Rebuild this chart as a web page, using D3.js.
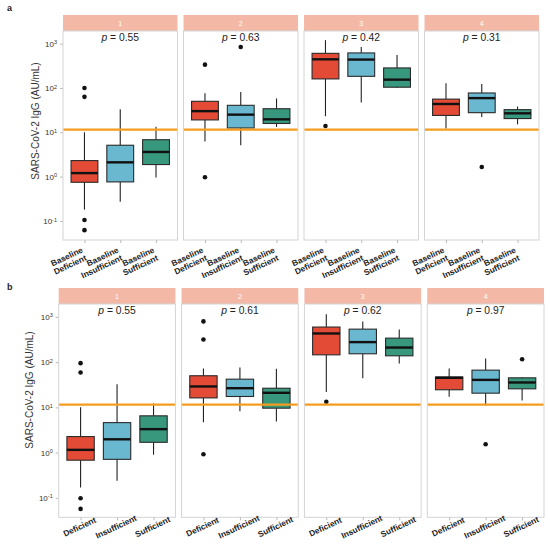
<!DOCTYPE html>
<html>
<head>
<meta charset="utf-8">
<script src="https://cdn.jsdelivr.net/npm/d3@7"></script>
<style>
  body { margin: 0; background: #fff; }
  svg { font-family: "Liberation Sans", Arial, sans-serif; }
</style>
</head>
<body>
<script>
// groups, facets and the cut-off line
var groups = ["Deficient", "Insufficient", "Sufficient"];
var facets = ["1", "2", "3", "4"];
var cutoff = 11.5;
var yTicks = [0.1, 1, 10, 100, 1000];

var pValuesA = ["0.55", "0.63", "0.42", "0.31"];
var pValuesB = ["0.55", "0.61", "0.62", "0.97"];

// per facet, per group: [lower whisker, Q1, median, Q3, upper whisker]
var boxesA = [
  [[0.18, 0.745, 1.2, 2.3, 10], [0.27, 0.76, 2.1, 5.1, 33], [0.95, 1.87, 3.6, 6.8, 13.4]],
  [[6.2, 19, 30, 50, 76], [5.1, 12.5, 25, 40.6, 81], [13.2, 15.8, 19.6, 34, 58]],
  [[23, 160, 443, 604, 1200], [47, 183, 437, 617, 840], [100, 104, 154, 283, 553]],
  [[12.1, 24, 43.5, 56, 127], [22, 27.7, 59, 77, 123], [15.1, 20.4, 26.8, 32.4, 38]]
];
var outliersA = [
  [[100, 63, 0.105, 0.062], [], []],
  [[336, 0.97], [840], []],
  [[13.9], [], []],
  [[], [1.65], []]
];

var boxesB = [
  [[0.17, 0.68, 1.15, 2.26, 10], [0.24, 0.71, 1.97, 4.6, 32.6], [0.9, 1.69, 3.3, 6.5, 12.2]],
  [[4.7, 16.2, 29, 50, 72], [8.2, 17.4, 26.5, 42, 76], [4.9, 9.6, 21, 26.5, 71]],
  [[22, 145, 430, 596, 1150], [44, 153, 277, 536, 795], [93, 138, 210, 339, 527]],
  [[17.1, 24.5, 45, 47, 72], [11, 20.6, 40.5, 66.5, 120], [14.1, 25.7, 35.5, 45, 47]]
];
var outliersB = [
  [[95, 59, 0.098, 0.057], [], []],
  [[795, 317, 0.92], [], []],
  [[13.3], [], []],
  [[], [1.53], [116]]
];

var fills = ["#e34b36", "#69b8cf", "#37987d"];

var svg = d3.select("body").append("svg")
  .attr("width", 550)
  .attr("height", 545);

// draw one row of four facets
function drawRow(cfg, boxes, outs, pvals) {
  var fx = d3.scaleBand().domain(facets).range([cfg.x0, cfg.x1]).paddingInner(0.05);
  var y = d3.scaleLog().domain([Math.pow(10, -1.43), Math.pow(10, 3.285)])
    .range([cfg.bottom, cfg.top]);

  // row letter
  svg.append("text")
    .attr("x", 7).attr("y", cfg.letterY)
    .attr("font-size", 9).attr("font-weight", "bold").attr("fill", "#222")
    .text(cfg.letter);

  // y title
  svg.append("text")
    .attr("transform", "translate(" + cfg.titleX + "," + cfg.titleY + ") rotate(-90)")
    .attr("text-anchor", "middle")
    .attr("font-size", 10).attr("fill", "#333")
    .text("SARS-CoV-2 IgG (AU/mL)");

  // y axis
  var yAxis = d3.axisLeft(y).tickValues(yTicks).tickSize(3).tickPadding(3);
  var ya = svg.append("g")
    .attr("transform", "translate(" + fx(facets[0]) + ",0)")
    .call(yAxis);
  ya.select(".domain").remove();
  ya.selectAll("line").attr("stroke", "#bbb");
  ya.selectAll("text").each(function(d) {
    var t = d3.select(this).text(null).attr("font-size", 8).attr("fill", "#333")
      .attr("font-family", "Liberation Sans, Arial, sans-serif");
    t.append("tspan").text("10");
    t.append("tspan").attr("dy", "-0.45em").attr("font-size", 5.5)
      .text(Math.round(Math.log10(d)));
  });

  facets.forEach(function(f, i) {
    var px = fx(f), bw = fx.bandwidth();
    var x = d3.scalePoint().domain(groups).range([px, px + bw]).padding(0.6);
    var boxW = x.step() * 0.75;
    var g = svg.append("g");

    // strip
    g.append("rect")
      .attr("x", px).attr("y", cfg.top - 16)
      .attr("width", bw).attr("height", 16)
      .attr("fill", "#f3b8a6");
    g.append("text")
      .attr("x", px + bw / 2).attr("y", cfg.top - 5.5)
      .attr("text-anchor", "middle")
      .attr("font-size", 7).attr("fill", "#fff")
      .text(f);

    // panel frame
    g.append("rect")
      .attr("x", px).attr("y", cfg.top)
      .attr("width", bw).attr("height", cfg.bottom - cfg.top)
      .attr("fill", "#fff").attr("stroke", "#d4d4d4").attr("stroke-width", 1);

    // x ticks
    var xa = g.append("g")
      .attr("transform", "translate(0," + cfg.bottom + ")")
      .call(d3.axisBottom(x).tickSize(3).tickFormat(""));
    xa.select(".domain").remove();
    xa.selectAll("line").attr("stroke", "#bbb");

    // x labels
    groups.forEach(function(gr) {
      if (cfg.twoLine) {
        var t = g.append("text")
          .attr("transform", "translate(" + (x(gr) - 1) + "," + (cfg.bottom + 12) + ") rotate(-25)")
          .attr("text-anchor", "end")
          .attr("font-size", 8.3).attr("font-weight", "bold").attr("fill", "#222");
        t.append("tspan").attr("x", 0).attr("dy", 0).text("Baseline");
        t.append("tspan").attr("x", 0).attr("dy", "1.05em").text(gr);
      } else {
        g.append("text")
          .attr("transform", "translate(" + (x(gr) - 1) + "," + (cfg.bottom + 9.5) + ") rotate(-25)")
          .attr("text-anchor", "middle").attr("dy", "0.35em")
          .attr("font-size", 8.3).attr("font-weight", "bold").attr("fill", "#222")
          .text(gr);
      }
    });

    // p value
    var pt = g.append("text")
      .attr("x", px + bw / 2).attr("y", cfg.top + 9.5)
      .attr("text-anchor", "middle")
      .attr("font-size", 10.3).attr("fill", "#222");
    pt.append("tspan").attr("font-style", "italic").text("p");
    pt.append("tspan").text(" = " + pvals[i]);

    // boxes
    groups.forEach(function(gr, j) {
      var s = boxes[i][j];
      var cx = x(gr);
      g.append("line")
        .attr("x1", cx).attr("x2", cx)
        .attr("y1", y(s[3])).attr("y2", y(s[4]))
        .attr("stroke", "#222").attr("stroke-width", 1.1);
      g.append("line")
        .attr("x1", cx).attr("x2", cx)
        .attr("y1", y(s[1])).attr("y2", y(s[0]))
        .attr("stroke", "#222").attr("stroke-width", 1.1);
      g.append("rect")
        .attr("x", cx - boxW / 2).attr("y", y(s[3]))
        .attr("width", boxW).attr("height", y(s[1]) - y(s[3]))
        .attr("fill", fills[j]).attr("stroke", "#2a2a2a").attr("stroke-width", 1.1);
      g.append("line")
        .attr("x1", cx - boxW / 2).attr("x2", cx + boxW / 2)
        .attr("y1", y(s[2])).attr("y2", y(s[2]))
        .attr("stroke", "#111").attr("stroke-width", 2.4);
      g.selectAll(null)
        .data(outs[i][j])
        .enter()
        .append("circle")
        .attr("cx", cx)
        .attr("cy", function(d) { return y(d); })
        .attr("r", 2.3)
        .attr("fill", "#111");
    });

    // cut-off line
    g.append("line")
      .attr("x1", px + 0.5).attr("x2", px + bw - 0.5)
      .attr("y1", y(cutoff)).attr("y2", y(cutoff))
      .attr("stroke", "#f39c1f").attr("stroke-width", 2.4);
  });
}

drawRow({ letter: "a", letterY: 11, x0: 63, x1: 539, top: 31, bottom: 240,
          titleX: 39, titleY: 121, twoLine: true },
        boxesA, outliersA, pValuesA);

drawRow({ letter: "b", letterY: 290, x0: 58.7, x1: 544, top: 304, bottom: 517.3,
          titleX: 33, titleY: 390, twoLine: false },
        boxesB, outliersB, pValuesB);
</script>
</body>
</html>
